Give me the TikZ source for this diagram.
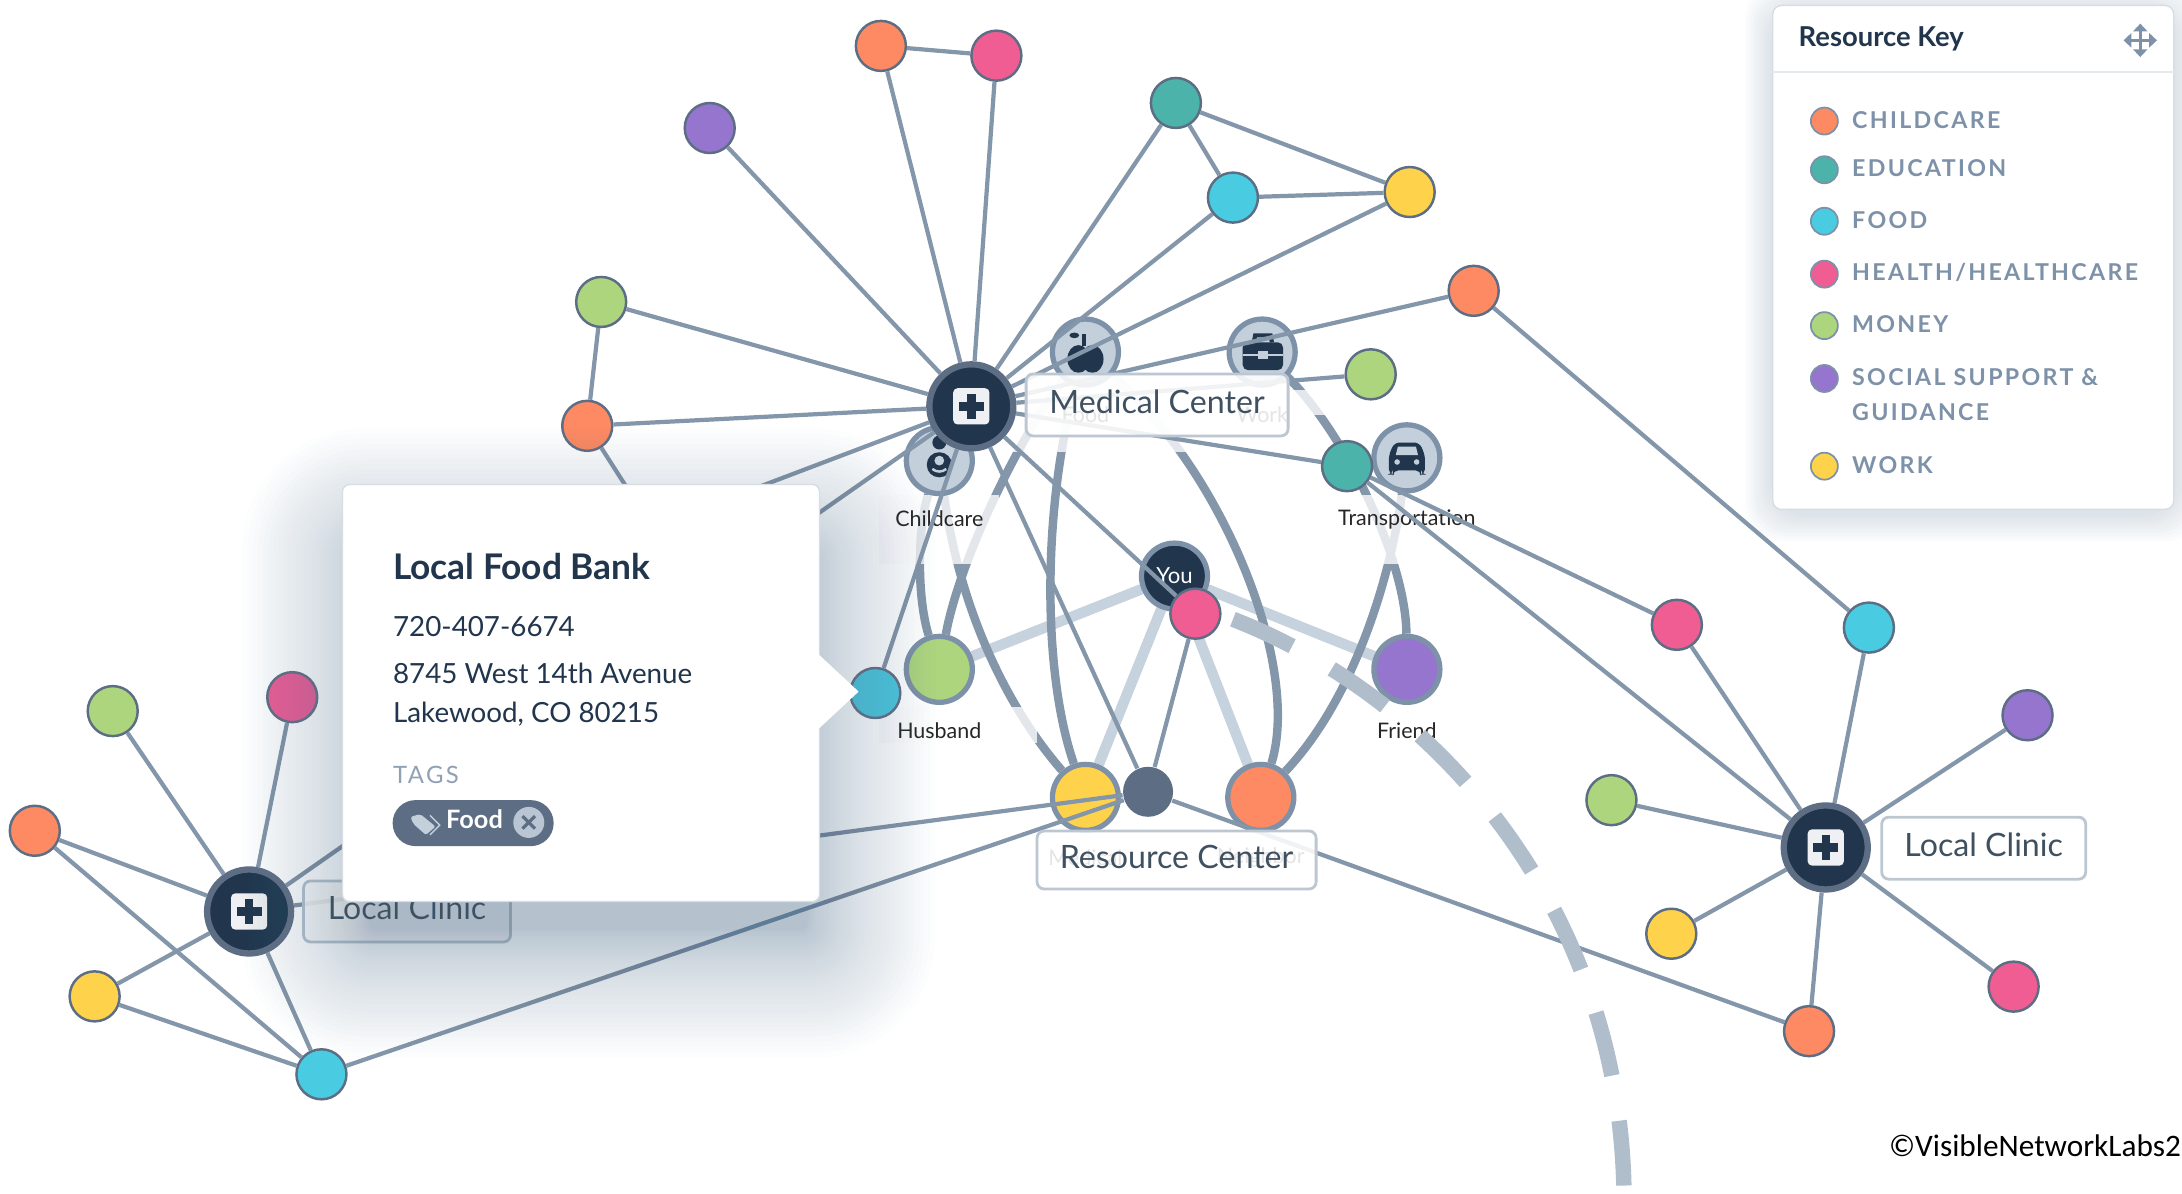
\documentclass[tikz,border=0pt]{standalone}
\usepackage{fontspec}
\setmainfont{Lato}
\newfontfamily\keyfont[LetterSpace=10]{Lato}
\newfontfamily\markfont{Carlito}
\usetikzlibrary{
  positioning,
  calc,
  arrows.meta
}
\definecolor{navy}{HTML}{21354C}
\definecolor{slate}{HTML}{5C6D84}
\definecolor{linkgray}{HTML}{8496AA}
\definecolor{rimgray}{HTML}{7D91A8}
\definecolor{palegray}{HTML}{C3CFDB}
\definecolor{fadegray}{HTML}{C6D2DD}
\definecolor{dashgray}{HTML}{B0BDCA}
\definecolor{boxgray}{HTML}{BCC7D1}
\definecolor{labelgray}{HTML}{3F5161}
\definecolor{shadowblue}{HTML}{5F7C96}
\definecolor{childcare}{HTML}{FD8A63}
\definecolor{education}{HTML}{4BB3A9}
\definecolor{foodblue}{HTML}{49CCE1}
\definecolor{health}{HTML}{EF5D92}
\definecolor{money}{HTML}{ADD57E}
\definecolor{social}{HTML}{9575CD}
\definecolor{work}{HTML}{FFD24C}
\pgfdeclarelayer{edgelayer}
\pgfsetlayers{edgelayer,main}
\tikzstyle{smallnode}=[circle, draw=slate, line width=0.7pt, minimum size=0.5cm, inner sep=0pt]
\tikzstyle{largenode}=[circle, draw=rimgray, line width=1.5pt, minimum size=0.66cm, inner sep=0pt]
\tikzstyle{hubnode}=[circle, draw=slate, fill=navy, line width=1.8pt, minimum size=0.84cm, inner sep=0pt]
\tikzstyle{keydot}=[circle, draw=rimgray, line width=0.5pt, minimum size=0.27cm, inner sep=0pt]
\tikzstyle{thinlink}=[linkgray, line width=1.2pt]
\tikzstyle{thicklink}=[linkgray, line width=2.4pt]
\tikzstyle{palelink}=[fadegray, line width=3pt]
\tikzstyle{dashlink}=[dashgray, line width=4.4pt, dash pattern=on 18.5pt off 13pt]
\tikzstyle{fadebox}=[fill=white, opacity=0.78]
\tikzstyle{namebox}=[draw=boxgray, line width=0.8pt, fill=white, fill opacity=0.88, text opacity=1, rounded corners=2pt, text=labelgray, font=\fontsize{9.15}{12}\selectfont, inner sep=0pt]
\tikzstyle{peoplelabel}=[text=black!85, font=\fontsize{6.1}{8}\selectfont, inner sep=0pt]
\tikzstyle{keytext}=[anchor=west, text=rimgray, font=\keyfont\bfseries\fontsize{6.6}{10}\selectfont, inner sep=0pt]
\tikzstyle{cardtext}=[anchor=west, text=navy, font=\fontsize{7.9}{11}\selectfont, inner sep=0pt]
\tikzstyle{movearrow}=[rimgray, line width=0.9pt, {Triangle[width=4pt,length=2.2pt]}-{Triangle[width=4pt,length=2.2pt]}]

\begin{document}
\begin{tikzpicture}[x=0.013916cm, y=-0.013916cm]
    \useasboundingbox (0,0) rectangle (1568,858);
    \def\hubcross#1{
      \fill[white!90!slate, rounded corners=1.2pt] ($(#1)+(-13,-13)$) rectangle ($(#1)+(13,13)$);
      \fill[navy] ($(#1)+(-9,-3)$) rectangle ($(#1)+(9,3)$);
      \fill[navy] ($(#1)+(-3,-9)$) rectangle ($(#1)+(3,9)$);
    }
    \def\healthword{HEALTH/HEALTHCARE}

    % people and services
    \foreach \name/\x/\y/\col in {
      childcarecircle/675/331/palegray, applecircle/780/253/palegray,
      casecircle/907/253/palegray, carcircle/1011/329/palegray,
      husband/675/481/money, friend/1011/481/social,
      yellowcenter/780/573/work, orangecenter/906/573/childcare}
      \node[largenode, fill=\col] (\name) at (\x,\y) {};
    \node[largenode, fill=navy] (you) at (844,414) {};
    \node[text=white, font=\fontsize{6.3}{8}\selectfont, inner sep=0pt] (youtext) at (844,414) {You};

    % faint labels under the boxes
    \node[peoplelabel] (foodtext) at (780,298) {Food};
    \node[peoplelabel] (worktext) at (907,298) {Work};
    \node[peoplelabel] (medicaltext) at (780,616) {Medical};
    \node[peoplelabel] (neighbortext) at (906,616) {Neighbor};

    % icons
    \fill[navy] (775,258) ellipse (8 and 10) (785,258) ellipse (8 and 10);
    \fill[navy] (772,241) ellipse (3.5 and 2);
    \draw[navy, line width=0.9pt] (779,240) -- (779,249);
    \fill[navy, rounded corners=1.5pt] (893,246) rectangle (922,266);
    \draw[navy, line width=1.2pt] (901,246) -- (902,241) -- (913,241) -- (914,246);
    \draw[palegray, line width=0.5pt] (893,255) -- (922,255);
    \fill[palegray] (904,252) rectangle (911,258);
    \fill[navy, rounded corners=1.5pt] (998,327) -- (1002,318) -- (1020,318) -- (1024,327) -- (1024,341) -- (1021,341) -- (1021,338) -- (1001,338) -- (1001,341) -- (998,341) -- cycle;
    \fill[palegray] (1004.5,321) -- (1017.5,321) -- (1019,327) -- (1003,327) -- cycle;
    \fill[palegray] (1004,332) circle (2) (1018,332) circle (2);
    \fill[navy] (675,318) circle (5);
    \fill[navy, rounded corners=3.5pt] (666,325) rectangle (684,343);
    \fill[palegray] (675,331) circle (3.5);
    \draw[palegray, line width=0.7pt] (670,337) .. controls (673,339.5) and (677,339.5) .. (680,337);

    % thick links and the white behind the labels
    \begin{pgfonlayer}{edgelayer}
      \foreach \a/\b in {you/husband, you/friend, you/yellowcenter, you/orangecenter}
        \draw[palelink] (\a) -- (\b);
      \draw[thicklink] (husband) .. controls (659,430) and (659,380) .. (childcarecircle);
      \draw[thicklink] (husband) .. controls (690,400) and (735,310) .. (applecircle);
      \draw[thicklink] (childcarecircle) .. controls (690,440) and (725,510) .. (yellowcenter);
      \draw[thicklink] (applecircle) .. controls (750,360) and (748,480) .. (yellowcenter);
      \draw[thicklink] (applecircle) .. controls (880,340) and (935,480) .. (orangecenter);
      \draw[thicklink] (casecircle) .. controls (965,310) and (1010,400) .. (friend);
      \draw[thicklink] (carcircle) .. controls (1000,410) and (975,500) .. (orangecenter);
      \fill[fadebox] (632,356) rectangle (718,405);
      \fill[fadebox] (632,508) rectangle (745,534);
      \fill[fadebox] (960,356) rectangle (1062,405);
      \fill[fadebox] (725,262) rectangle (858,325);
      \fill[fadebox] (880,280) rectangle (960,298);
    \end{pgfonlayer}
    \node[peoplelabel] (childcaretext) at (675,373) {Childcare};
    \node[peoplelabel] (husbandtext) at (675,525) {Husband};
    \node[peoplelabel] (transporttext) at (1011,373) {Transportation};
    \node[peoplelabel] (friendtext) at (1011,525) {Friend};

    % resources
    \foreach \name/\x/\y/\col in {
      orangetop/633/33/childcare, pinktop/716/40/health, purpletop/510/92/social,
      tealtop/845/74/education, foodtop/886/142/foodblue, yellowtop/1013/138/work,
      greenleft/432/217/money, orangeleft/422/306/childcare, orangeright/1059/209/childcare,
      greenmid/985/269/money, tealmid/968/335/education, pinkmid/859/441/health,
      foodbank/629/498/foodblue, pinkright/1205/449/health, foodright/1343/451/foodblue,
      purpleright/1457/514/social, greenright/1158/575/money, yellowright/1201/671/work,
      pinklow/1447/709/health, orangelow/1300/741/childcare,
      greenfar/81/511/money, pinkfar/210/501/health, orangefar/25/597/childcare,
      yellowfar/68/716/work, foodfar/231/772/foodblue}
      \node[smallnode, fill=\col] (\name) at (\x,\y) {};
    \node[circle, fill=slate, minimum size=0.5cm, inner sep=0pt] (slatecenter) at (825,569) {};
    \node[hubnode] (hubmedical) at (698,292) {};
    \node[hubnode] (hubright) at (1312,609) {};
    \node[hubnode] (hubleft) at (179,655) {};
    \coordinate (hiddenone) at (470,381);
    \coordinate (hiddentwo) at (400,405);

    % thin links
    \foreach \a/\b in {
      hubmedical/orangetop, hubmedical/pinktop, hubmedical/purpletop, hubmedical/tealtop,
      hubmedical/foodtop, hubmedical/yellowtop, hubmedical/greenleft, hubmedical/orangeleft,
      hubmedical/orangeright, hubmedical/greenmid, hubmedical/tealmid, hubmedical/foodbank,
      hubmedical/pinkmid, hubmedical/slatecenter, hubmedical/hubleft, hubmedical/hiddentwo,
      orangeleft/hiddenone, orangetop/pinktop, tealtop/foodtop, tealtop/yellowtop,
      foodtop/yellowtop, greenleft/orangeleft, pinkmid/slatecenter,
      hubleft/slatecenter, foodfar/slatecenter, slatecenter/orangelow,
      tealmid/pinkright, tealmid/hubright, pinkright/hubright, foodright/hubright,
      orangeright/foodright, purpleright/hubright, greenright/hubright, yellowright/hubright,
      pinklow/hubright, orangelow/hubright,
      greenfar/hubleft, pinkfar/hubleft, orangefar/hubleft, yellowfar/hubleft,
      foodfar/hubleft, orangefar/foodfar, yellowfar/foodfar}
      \draw[thinlink] (\a) -- (\b);

    % marks on the hubs
    \hubcross{hubmedical}
    \hubcross{hubright}
    \hubcross{hubleft}

    % dashed route
    \coordinate (routestart) at (886,445);
    \coordinate (routeend) at (1167,858);
    \draw[dashlink] (routestart) .. controls (1040,505) and (1165,660) .. (routeend);

    % name boxes
    \node[namebox, minimum width=2.62cm, minimum height=0.62cm] (medicalbox) at (831.5,291) {\raisebox{2pt}{Medical Center}};
    \node[namebox, minimum width=2.79cm, minimum height=0.58cm] (resourcebox) at (845.5,618) {\raisebox{2pt}{Resource Center}};
    \node[namebox, minimum width=2.04cm, minimum height=0.62cm] (clinicright) at (1425.5,609.5) {\raisebox{2pt}{Local Clinic}};
    \node[namebox, minimum width=2.07cm, minimum height=0.61cm] (clinicleft) at (292.5,655) {\raisebox{2pt}{Local Clinic}};

    % card with shadow
    \foreach \i in {1,...,40} {
      \pgfmathsetmacro{\r}{92*(\i/40)^1.7}
      \pgfmathsetmacro{\cornersize}{2+0.35*\r}
      \fill[shadowblue, opacity=0.017, rounded corners=\cornersize pt] ({266-\r},{400-\r}) rectangle ({580+\r},{668+\r});
    }
    \node[draw=boxgray!60, line width=0.4pt, fill=white, rounded corners=2pt, minimum width=4.77cm, minimum height=4.17cm, inner sep=0pt] (card) at (417.5,498) {};
    \fill[white] (588,470) -- (617,497) -- (588,524) -- cycle;
    \node[cardtext, font=\bfseries\fontsize{10.05}{13}\selectfont] (cardtitle) at (282,407) {Local Food Bank};
    \node[cardtext] (cardphone) at (282,450) {720-407-6674};
    \node[cardtext] (cardstreet) at (282,484) {8745 West 14th Avenue};
    \node[cardtext] (cardcity) at (282,513) {Lakewood, CO 80215};
    \node[cardtext, text=rimgray!85, font=\keyfont\fontsize{6.8}{9}\selectfont] (cardtags) at (282,557) {TAGS};
    \node[fill=slate, rounded corners=6.5pt, minimum width=1.61cm, minimum height=0.46cm, inner sep=0pt] (foodpill) at (340,591.5) {};
    \node[text=white, font=\bfseries\fontsize{7.2}{9}\selectfont, inner sep=0pt] (foodtag) at (341,589) {Food};
    \fill[palegray, rounded corners=0.6pt] (295,587) -- (302,585) -- (313,594) -- (306,600) -- (297,592) -- cycle;
    \draw[palegray, line width=0.4pt] (309,586) -- (316,593) -- (309,600);
    \node[circle, fill=palegray!90!slate, minimum size=0.31cm, inner sep=0pt] (tagclose) at (380,591) {};
    \draw[slate, line width=0.9pt] (375.5,586.5) -- (384.5,595.5) (375.5,595.5) -- (384.5,586.5);

    % resource key
    \foreach \r in {2,4,...,20}
      \fill[shadowblue, opacity=0.025, rounded corners=10pt] ({1274-\r},{8-\r}) rectangle ({1562+\r},{369+\r});
    \node[draw=boxgray!60, line width=0.4pt, fill=white, rounded corners=2.5pt, minimum width=4.01cm, minimum height=5.04cm, inner sep=0pt] (keybox) at (1418,185) {};
    \draw[boxgray!40, line width=0.5pt] (keybox.west |- 0,52) -- (keybox.east |- 0,52);
    \node[anchor=west, text=navy, font=\bfseries\fontsize{7.8}{10}\selectfont, inner sep=0pt] (keytitle) at (1292,28) {Resource Key};
    \coordinate (movecenter) at (1538,29);
    \draw[movearrow] ($(movecenter)+(-12,0)$) -- ($(movecenter)+(12,0)$);
    \draw[movearrow] ($(movecenter)+(0,-12)$) -- ($(movecenter)+(0,12)$);
    \foreach \name/\y/\col/\word in {
      keychildcare/87/childcare/CHILDCARE, keyeducation/122/education/EDUCATION,
      keyfood/159/foodblue/FOOD, keyhealth/197/health/\healthword,
      keymoney/234/money/MONEY, keysocial/272/social/SOCIAL SUPPORT \&,
      keywork/335/work/WORK} {
      \node[keydot, fill=\col] (\name) at (1311,\y) {};
      \node[keytext] (\name text) at (1330.5,\y-1) {\word};
    }
    \node[keytext] (keyguidance) at (1330.5,296) {GUIDANCE};

    % copyright
    \node[anchor=west, text=black, font=\markfont\fontsize{8.9}{11}\selectfont, inner sep=0pt] (copymark) at (1357,823) {©VisibleNetworkLabs2};
\end{tikzpicture}
\end{document}
